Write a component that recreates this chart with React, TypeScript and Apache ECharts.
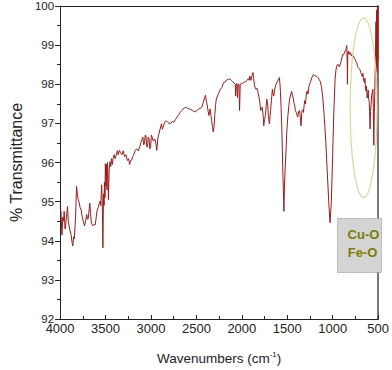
import React, { useEffect, useRef } from "react";
import * as echarts from "echarts";

// Wavenumbers (cm^-1) and % transmittance
const wavenumbers: number[] = [
  4000, 3990, 3980, 3970, 3962, 3955, 3945, 3930, 3918, 3910, 3901, 3890, 3877, 3868, 3860, 3850, 3843, 3830, 3819, 3810,
  3800, 3792, 3780, 3770, 3758, 3745, 3731, 3720, 3707, 3698, 3690, 3680, 3673, 3665, 3655, 3639, 3625, 3615, 3605, 3594,
  3580, 3570, 3560, 3552, 3543, 3536, 3529, 3522, 3516, 3512, 3506, 3502, 3495, 3490, 3484, 3478, 3472, 3468, 3460, 3451,
  3442, 3435, 3425, 3417, 3405, 3395, 3383, 3370, 3360, 3348, 3335, 3320, 3305, 3290, 3275, 3260, 3246, 3235, 3225, 3212,
  3200, 3192, 3175, 3158, 3140, 3123, 3105, 3089, 3080, 3072, 3063, 3055, 3046, 3038, 3030, 3021, 3012, 3004, 2995, 2987,
  2975, 2959, 2947, 2936, 2925, 2918, 2900, 2884, 2875, 2867, 2850, 2833, 2816, 2800, 2782, 2765, 2748, 2730, 2714, 2695,
  2680, 2660, 2646, 2628, 2611, 2595, 2577, 2560, 2543, 2525, 2509, 2492, 2475, 2458, 2441, 2430, 2424, 2410, 2400, 2390,
  2383, 2370, 2363, 2355, 2349, 2340, 2332, 2322, 2314, 2305, 2298, 2290, 2281, 2265, 2253, 2237, 2219, 2202, 2186, 2168,
  2150, 2134, 2115, 2100, 2085, 2073, 2068, 2062, 2055, 2048, 2042, 2032, 2025, 2018, 2000, 1981, 1965, 1946, 1930, 1920,
  1912, 1900, 1890, 1878, 1870, 1861, 1844, 1835, 1827, 1810, 1800, 1793, 1776, 1765, 1759, 1750, 1741, 1732, 1725, 1715,
  1708, 1697, 1684, 1664, 1656, 1649, 1640, 1629, 1615, 1605, 1595, 1588, 1580, 1575, 1568, 1561, 1554, 1547, 1540, 1537,
  1532, 1526, 1513, 1505, 1493, 1475, 1460, 1452, 1443, 1435, 1425, 1418, 1411, 1401, 1392, 1384, 1375, 1367, 1358, 1349,
  1340, 1330, 1322, 1315, 1308, 1300, 1290, 1281, 1272, 1262, 1247, 1230, 1213, 1200, 1186, 1175, 1162, 1150, 1138, 1125,
  1111, 1094, 1076, 1060, 1042, 1029, 1015, 1001, 988, 974, 965, 957, 948, 940, 930, 923, 912, 899, 889, 880,
  872, 863, 855, 849, 845, 840, 838, 834, 828, 821, 812, 804, 795, 787, 778, 769, 760, 753, 744, 735,
  726, 718, 710, 701, 692, 684, 676, 668, 660, 650, 645, 640, 633, 628, 622, 616, 610, 604, 599, 594,
  589, 584, 579, 572, 565, 558, 553, 548, 543, 538, 534, 531, 527, 524, 520, 516, 512, 508, 504, 500,
];

const transmittance: number[] = [
  94.85, 94.75, 94.15, 94.6, 94.5, 94.75, 94.3, 94.6, 94.88, 94.5, 94.38, 94.25, 94.13, 93.95, 93.87, 94.1, 94.05, 94.6, 95.39, 95.2,
  95.05, 95.0, 94.85, 94.8, 94.63, 94.5, 94.38, 94.5, 94.67, 94.55, 94.58, 94.8, 94.96, 94.7, 94.45, 94.38, 94.42, 94.4, 94.55, 94.76,
  94.85, 94.95, 95.01, 94.9, 95.43, 95.0, 93.82, 95.2, 94.9, 95.5, 95.1, 95.97, 95.4, 95.95, 95.3, 96.0, 95.6, 95.05, 95.8, 96.02,
  95.9, 96.1, 95.95, 96.1, 96.2, 96.1, 96.18, 96.3, 96.2, 96.31, 96.25, 96.2, 96.3, 96.15, 96.2, 96.05, 96.1, 95.95, 96.05, 96.06,
  96.15, 96.18, 96.3, 96.35, 96.3, 96.4, 96.55, 96.65, 96.45, 96.48, 96.7, 96.68, 96.4, 96.4, 96.65, 96.6, 96.35, 96.4, 96.7, 96.65,
  96.55, 96.6, 96.5, 96.31, 96.6, 96.68, 96.85, 96.99, 96.85, 96.9, 97.03, 97.07, 97.03, 97.0, 97.0, 97.05, 97.03, 97.1, 97.16, 97.22,
  97.28, 97.33, 97.37, 97.4, 97.41, 97.38, 97.37, 97.35, 97.33, 97.3, 97.3, 97.33, 97.37, 97.38, 97.41, 97.5, 97.54, 97.65, 97.72, 97.55,
  97.49, 97.3, 97.2, 97.3, 97.37, 97.2, 97.07, 96.9, 96.78, 96.95, 97.2, 97.45, 97.62, 97.72, 97.78, 97.87, 97.92, 98.04, 98.05, 98.11,
  98.12, 98.14, 98.1, 98.06, 98.03, 98.0, 97.7, 98.0, 98.02, 97.66, 98.0, 98.0, 97.33, 98.0, 98.02, 98.04, 98.06, 98.09, 98.14, 98.1,
  98.21, 98.1, 98.2, 98.3, 98.15, 97.96, 97.87, 97.9, 97.85, 97.66, 97.5, 97.33, 97.41, 97.2, 96.94, 97.1, 97.2, 97.45, 97.62, 97.45,
  97.2, 96.99, 97.33, 97.87, 97.75, 97.7, 97.85, 97.96, 98.05, 98.09, 98.13, 98.17, 98.0, 97.79, 97.4, 96.94, 96.3, 95.6, 95.0, 94.75,
  95.3, 95.72, 96.35, 96.8, 97.2, 97.62, 97.75, 97.82, 97.72, 97.65, 97.5, 97.45, 97.33, 97.28, 97.2, 97.16, 97.3, 97.33, 97.2, 96.94,
  97.3, 97.35, 97.28, 97.45, 97.58, 97.5, 97.75, 97.83, 97.75, 97.95, 98.04, 98.17, 98.25, 98.22, 98.21, 98.2, 98.17, 98.12, 98.08, 97.95,
  97.7, 97.2, 96.52, 95.76, 94.92, 94.46, 95.0, 96.18, 97.28, 98.13, 98.35, 98.46, 98.5, 98.51, 98.45, 98.46, 98.55, 98.68, 98.76, 98.75,
  98.8, 98.85, 98.89, 98.95, 98.99, 98.5, 98.0, 98.8, 98.85, 98.76, 98.82, 98.8, 98.72, 98.76, 98.7, 98.72, 98.65, 98.63, 98.58, 98.55,
  98.45, 98.42, 98.4, 98.38, 98.3, 98.25, 98.2, 98.28, 98.1, 98.04, 98.15, 97.9, 97.83, 97.95, 97.65, 97.7, 97.85, 97.6, 97.58, 97.3,
  96.86, 97.3, 97.45, 97.7, 97.8, 97.87, 97.4, 96.44, 97.2, 97.7, 98.2, 98.46, 99.2, 99.6, 98.4, 99.9, 98.3, 100, 98.6, 100,
];

const xTicks = { min: 500, max: 4000, step: 500 };
const yTicks = { min: 92, max: 100, step: 1 };
const bandLabels: string[] = ["Cu-O", "Fe-O"];
// Annotation ellipse in data coordinates: center wavenumber, center %T, half-width (cm^-1), half-height (%T)
const ellipseData: number[] = [660, 97.4, 148, 2.29];

const SANS = "'Liberation Sans', Arial, sans-serif";

export default function App() {
  const ref = useRef<HTMLDivElement>(null);

  useEffect(() => {
    document.body.style.margin = "0";
    if (!ref.current) return;
    const chart = echarts.init(ref.current, undefined, { renderer: "svg" });
    const data = wavenumbers.map((w, i) => [w, transmittance[i]]);

    chart.setOption({
      animation: false,
      backgroundColor: "#ffffff",
      grid: { left: 40, right: 9.5, top: 6, bottom: 48, containLabel: false },
      xAxis: [
        {
          type: "value",
          inverse: true,
          min: xTicks.min,
          max: xTicks.max,
          interval: xTicks.step,
          position: "bottom",
          axisLine: { show: true, lineStyle: { color: "#222", width: 1 } },
          axisTick: { show: true, inside: true, length: 4, lineStyle: { color: "#222" } },
          minorTick: { show: true, splitNumber: 2, length: 3, lineStyle: { color: "#222" } },
          splitLine: { show: false },
          axisLabel: {
            color: "#222",
            fontFamily: SANS,
            fontSize: 13,
            margin: 3,
            formatter: (v: number) => String(v),
          },
          name: "{a|Wavenumbers (cm}{s|-1}{a|)}",
          nameLocation: "middle",
          nameGap: 31,
          nameTextStyle: {
            rich: {
              a: { fontFamily: SANS, fontSize: 13.5, color: "#222" },
              s: { fontFamily: SANS, fontSize: 8, color: "#222", padding: [0, 0, 8, 0] },
            },
          },
        },
        {
          type: "value",
          inverse: true,
          min: xTicks.min,
          max: xTicks.max,
          position: "top",
          axisLine: { show: true, onZero: false, lineStyle: { color: "#222", width: 1 } },
          axisTick: { show: false },
          axisLabel: { show: false },
          splitLine: { show: false },
        },
      ],
      yAxis: [
        {
          type: "value",
          min: yTicks.min,
          max: yTicks.max,
          interval: yTicks.step,
          position: "left",
          axisLine: { show: true, onZero: false, lineStyle: { color: "#222", width: 1 } },
          axisTick: { show: true, inside: false, length: 5, lineStyle: { color: "#222" } },
          minorTick: { show: true, splitNumber: 2, length: 3, lineStyle: { color: "#222" } },
          splitLine: { show: false },
          axisLabel: { color: "#222", fontFamily: SANS, fontSize: 11.5, margin: 6 },
          name: "% Transmittance",
          nameLocation: "middle",
          nameGap: 28,
          nameTextStyle: { fontFamily: SANS, fontSize: 16, color: "#222" },
        },
        {
          type: "value",
          min: yTicks.min,
          max: yTicks.max,
          position: "right",
          axisLine: { show: true, onZero: false, lineStyle: { color: "#777", width: 2 } },
          axisTick: { show: false },
          axisLabel: { show: false },
          splitLine: { show: false },
        },
      ],
      series: [
        {
          type: "line",
          data,
          xAxisIndex: 0,
          yAxisIndex: 0,
          showSymbol: false,
          symbol: "none",
          lineStyle: { color: "#9b1b1b", width: 1 },
          z: 3,
        },
      ],
    });

    const [cw, ct, hw, ht] = ellipseData;
    const c = chart.convertToPixel({ xAxisIndex: 0, yAxisIndex: 0 }, [cw, ct]) as number[];
    const e1 = chart.convertToPixel({ xAxisIndex: 0, yAxisIndex: 0 }, [cw - hw, ct - ht]) as number[];
    const rx = Math.abs(e1[0] - c[0]);
    const ry = Math.abs(e1[1] - c[1]);

    chart.setOption({
      graphic: [
        {
          type: "ellipse",
          shape: { cx: c[0], cy: c[1], rx, ry },
          style: { fill: "none", stroke: "#d9d59e", lineWidth: 1.2 },
          z: 10,
        },
        {
          type: "rect",
          shape: { x: 337.5, y: 218.5, width: 44, height: 54 },
          style: { fill: "#d4d4d4", stroke: "#a8a8a8", lineWidth: 1, lineDash: [2, 1] },
          z: 10,
        },
        {
          type: "text",
          x: 363.5,
          y: 234,
          style: {
            text: bandLabels[0],
            fill: "#7d7d00",
            font: `bold 13px ${SANS}`,
            align: "center",
            verticalAlign: "middle",
          },
          z: 11,
        },
        {
          type: "text",
          x: 362.5,
          y: 252.5,
          style: {
            text: bandLabels[1],
            fill: "#7d7d00",
            font: `bold 13px ${SANS}`,
            align: "center",
            verticalAlign: "middle",
          },
          z: 11,
        },
      ],
    });

    return () => chart.dispose();
  }, []);

  return (
    <div
      ref={ref}
      style={{ position: "absolute", left: 0, top: 0, width: 392, height: 370, background: "#fff" }}
    />
  );
}
